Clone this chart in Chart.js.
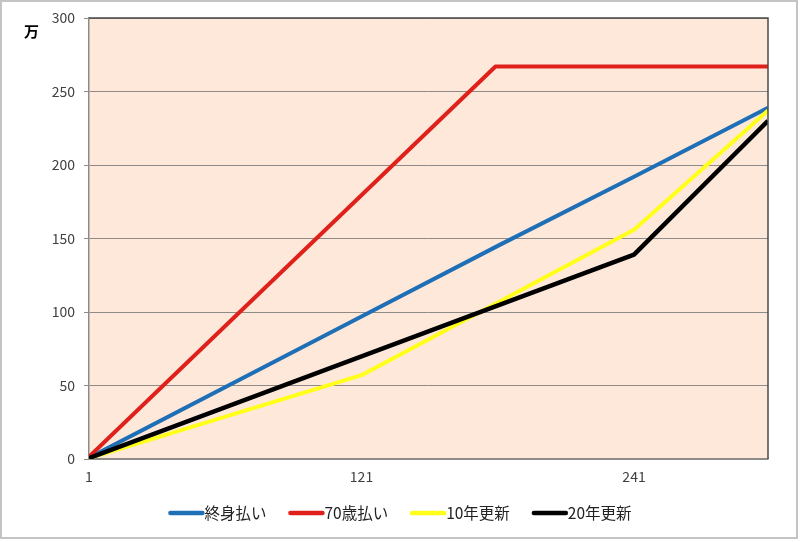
<!DOCTYPE html>
<html><head><meta charset="utf-8">
<script src="https://cdn.jsdelivr.net/npm/chart.js@4/dist/chart.umd.min.js"></script>
<style>html,body{margin:0;padding:0;background:#fff}#wrap{width:800px;height:542px;position:relative}</style>
</head><body><div id="wrap"><canvas id="c"></canvas></div>
<script>
// x: month number (1..300), y: cumulative premium (万円)
const monthTicks = [1, 121, 241];
const yUnitLabel = '万';
const seriesNames = ['終身払い', '70歳払い', '10年更新', '20年更新'];
const lifetimeMonths = [1, 121, 181, 241, 300];
const lifetimeValues = [0.8, 97, 145, 192, 239];
const until70Months = [1, 180, 300];
const until70Values = [1.5, 267, 267];
const renew10Months = [1, 121, 241, 300];
const renew10Values = [0.5, 57, 156, 237];
const renew20Months = [1, 241, 300];
const renew20Values = [0.6, 139, 230];

const colors = ['#1F6FB6', '#E0211B', '#FFFF1A', '#000000'];
const FONT = "'Noto Sans CJK JP', 'Noto Sans', sans-serif";

const toPts = (xs, ys) => xs.map((x, i) => ({x, y: ys[i]}));
const seriesData = [
  toPts(lifetimeMonths, lifetimeValues),
  toPts(until70Months, until70Values),
  toPts(renew10Months, renew10Values),
  toPts(renew20Months, renew20Values)
];

const decor = {
  id: 'decor',
  beforeDraw(chart) {
    const {ctx, chartArea: a} = chart;
    ctx.save();
    ctx.fillStyle = '#fff';
    ctx.fillRect(0, 0, chart.width, chart.height);
    ctx.fillStyle = '#FDE8DA';
    ctx.fillRect(a.left, a.top, a.right - a.left, a.bottom - a.top);
    ctx.restore();
  },
  afterDraw(chart) {
    const {ctx, chartArea: a} = chart;
    ctx.save();
    ctx.strokeStyle = '#4a4a4a';
    ctx.lineWidth = 1.5;
    ctx.beginPath();
    ctx.moveTo(a.left, a.top);
    ctx.lineTo(a.right, a.top);
    ctx.lineTo(a.right, a.bottom);
    ctx.stroke();
    ctx.fillStyle = '#000';
    ctx.font = 'bold 15px ' + FONT;
    ctx.textAlign = 'left';
    ctx.textBaseline = 'middle';
    ctx.fillText(yUnitLabel, 24, 31);
    ctx.font = '15.5px ' + FONT;
    const lineLen = 36, gap = 22;
    const widths = seriesNames.map(n => lineLen + ctx.measureText(n).width);
    const total = widths.reduce((s, w) => s + w, 0) + gap * (seriesNames.length - 1);
    let x = 400 - total / 2;
    const y = 513;
    seriesNames.forEach((n, i) => {
      ctx.strokeStyle = colors[i];
      ctx.lineWidth = 4.5;
      ctx.lineCap = 'round';
      ctx.beginPath();
      ctx.moveTo(x + 2, y);
      ctx.lineTo(x + lineLen - 2, y);
      ctx.stroke();
      ctx.fillStyle = '#222';
      ctx.fillText(n, x + lineLen, y);
      x += widths[i] + gap;
    });
    ctx.strokeStyle = '#C4C4C4';
    ctx.lineWidth = 2;
    ctx.lineCap = 'butt';
    ctx.strokeRect(1, 1, 796, 537);
    ctx.restore();
  }
};

const datasets = seriesNames.map((n, i) => ({
  label: n,
  data: seriesData[i],
  borderColor: colors[i],
  backgroundColor: colors[i],
  borderWidth: i === 3 ? 4.5 : 4,
  pointRadius: 0,
  tension: 0,
  borderJoinStyle: 'round',
  order: 4 - i
}));

new Chart(document.getElementById('c'), {
  type: 'line',
  data: {datasets},
  options: {
    responsive: true,
    maintainAspectRatio: false,
    devicePixelRatio: 1,
    animation: false,
    layout: {padding: {left: 0, right: 32, top: 18, bottom: 0}},
    plugins: {legend: {display: false}, tooltip: {enabled: false}},
    scales: {
      x: {
        type: 'linear',
        min: 1, max: 300,
        afterBuildTicks: s => { s.ticks = monthTicks.map(v => ({value: v})); },
        afterFit: s => { s.height = 83; },
        grid: {display: false, drawTicks: false},
        border: {display: true, color: '#8E8A88', width: 1.5},
        ticks: {
          padding: 9,
          maxRotation: 0,
          autoSkip: false,
          color: '#404040',
          font: {family: FONT, size: 14},
          callback: v => String(v)
        }
      },
      y: {
        min: 0, max: 300,
        afterFit: s => { s.width = 89; },
        grid: {color: '#8E8A88', lineWidth: 1, tickLength: 5},
        border: {display: true, color: '#8E8A88', width: 1.5},
        ticks: {
          stepSize: 50,
          padding: 9,
          color: '#404040',
          font: {family: FONT, size: 14}
        }
      }
    }
  },
  plugins: [decor]
});
</script>
</body></html>
